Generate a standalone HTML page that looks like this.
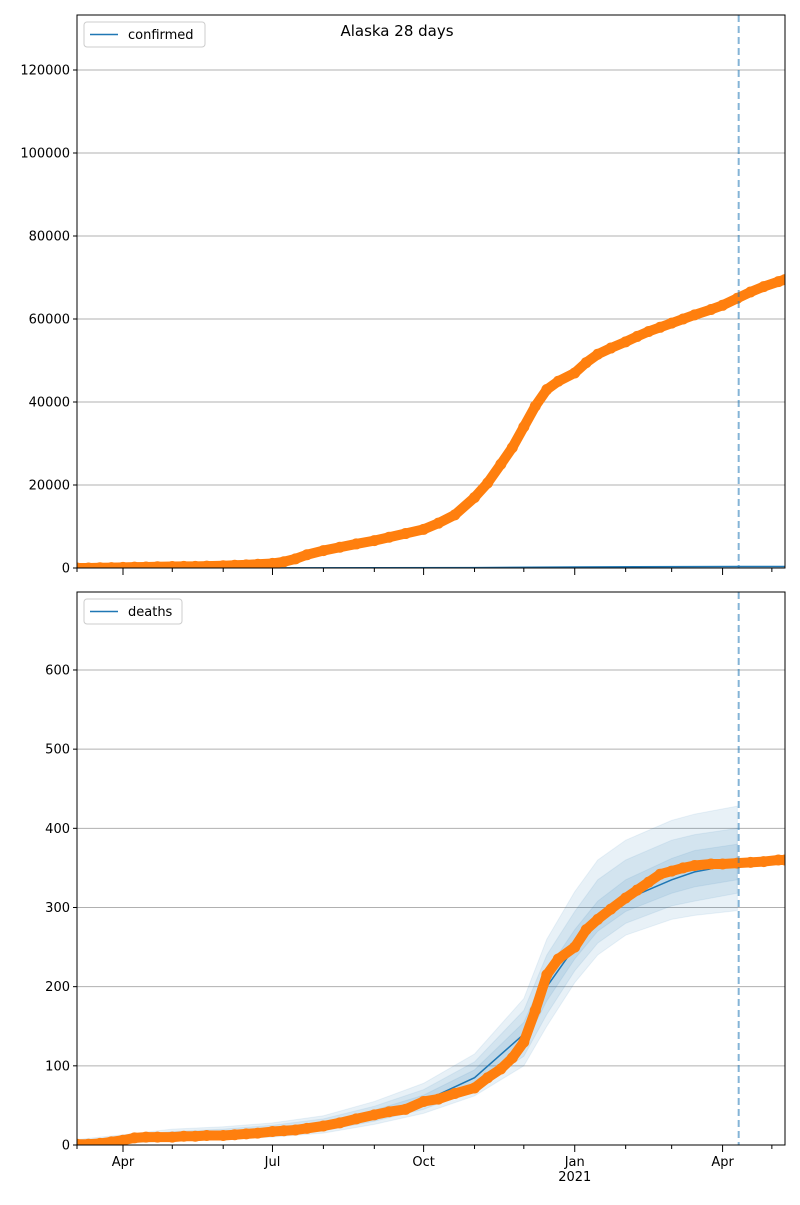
<!DOCTYPE html>
<html><head><meta charset="utf-8"><style>
body{margin:0;background:#fff;font-family:"Liberation Sans","DejaVu Sans",sans-serif}
svg text{font-family:"DejaVu Sans","Liberation Sans",sans-serif}
</style></head><body>
<svg id="c" width="800" height="1200" xmlns="http://www.w3.org/2000/svg"></svg>
<script>
// days since 2020-03-04
const obsDays=[0,7,14,21,28,35,42,49,58,65,72,79,89,96,103,110,119,126,133,140,150,160,170,181,190,200,211,220,230,242,250,258,265,272,279,286,293,303,310,317,325,334,341,348,355,362,369,376,386,393,402,410,418,427,431];
const confirmed=[0,0,50,100,150,200,250,300,350,380,400,450,550,650,750,900,1100,1500,2200,3200,4200,5000,5800,6600,7400,8300,9300,10800,12800,17000,20500,25000,29000,34000,39000,43000,45000,47000,49500,51500,53000,54500,55800,57000,58000,59000,60000,61000,62300,63300,65000,66500,67800,69000,69500];
const deaths=[1,1,2,4,6,9,10,10,10,11,11,12,12,13,14,15,17,18,19,21,24,28,33,38,42,45,55,58,65,72,85,96,110,130,170,215,235,250,272,285,298,312,322,332,342,346,350,353,355,355,356,357,358,360,360];
const bandDays=[0,28,58,89,119,150,181,211,242,272,286,303,317,334,362,376,402];
const median=[1,6,11,13,17,24,38,55,85,140,200,250,285,310,335,345,355];
const outerHi=[7,13,20,23,28,37,55,78,115,185,260,320,360,385,410,418,428];
const outerLo=[0,2,5,7,10,15,26,40,62,100,150,205,240,265,285,290,296];
const midHi=[5,11,17,20,25,33,49,70,105,170,240,295,335,360,385,392,400];
const midLo=[0,3,7,9,12,18,30,45,70,112,165,220,255,280,302,308,318];
const innerHi=[3,9,14,17,21,29,44,63,95,155,220,272,308,335,362,372,380];
const innerLo=[0,4,9,11,14,20,33,49,76,125,182,235,270,295,318,326,335];
const confModelDays=[0,119,242,303,402,431];
const confModel=[0,20,90,250,355,370];
const topTicks=[0,20000,40000,60000,80000,100000,120000];
const botTicks=[0,100,200,300,400,500,600];
const majorTicks=[[28,"Apr",""],[119,"Jul",""],[211,"Oct",""],[303,"Jan","2021"],[393,"Apr",""]];
const minorTicks=[0,58,89,150,181,242,272,334,362,423];
const forecastDay=402.8;

const svg=document.getElementById('c');const NS="http://www.w3.org/2000/svg";
function el(t,a,p){const e=document.createElementNS(NS,t);for(const k in a)e.setAttribute(k,a[k]);(p||svg).appendChild(e);return e;}
const X0=77,X1=785,D1=431;
const x=d=>X0+d*(X1-X0)/D1;
const defs=el('defs',{});
const panels=[{top:15,bot:568,max:133253,ticks:topTicks,name:'confirmed'},{top:592,bot:1145,max:698.5,ticks:botTicks,name:'deaths'}];
panels.forEach((p,pi)=>{
 const y=v=>p.bot-v*(p.bot-p.top)/p.max;
 const cp=el('clipPath',{id:'clip'+pi},defs);el('rect',{x:X0,y:p.top,width:X1-X0,height:p.bot-p.top},cp);
 const g=el('g',{});
 
 p.ticks.forEach(t=>{
  const l=el('line',{x1:X0,x2:X1,y1:y(t),y2:y(t),stroke:'#b0b0b0','stroke-width':1},g);
  
  el('line',{x1:X0-4,x2:X0,y1:y(t),y2:y(t),stroke:'#000'},g);
  const tx=el('text',{x:X0-7,y:y(t)+4.5,'text-anchor':'end','font-size':13},g);tx.textContent=t;
  
 });
 const pg=el('g',{'clip-path':'url(#clip'+pi+')'},g);
 
 if(pi===1){
  const band=(hi,lo,op,nm)=>{let d='M';bandDays.forEach((b,i)=>d+=x(b)+','+y(hi[i])+' L');for(let i=bandDays.length-1;i>=0;i--)d+=x(bandDays[i])+','+y(lo[i])+(i?' L':' Z');
   const e=el('path',{d:d,fill:'#1f77b4','fill-opacity':op,stroke:'#1f77b4','stroke-opacity':0.08},pg);};
  band(outerHi,outerLo,0.1,'band-outer');band(midHi,midLo,0.1,'band-middle');band(innerHi,innerLo,0.1,'band-inner');
  const m=el('polyline',{points:bandDays.map((b,i)=>x(b)+','+y(median[i])).join(' '),fill:'none',stroke:'#1f77b4','stroke-width':1.5},pg);
  
 } else {
  const m=el('polyline',{points:confModelDays.map((b,i)=>x(b)+','+y(confModel[i])).join(' '),fill:'none',stroke:'#1f77b4','stroke-width':1.5},pg);
  
 }
 const vals=pi?deaths:confirmed;
 const ol=el('polyline',{points:obsDays.map((d,i)=>x(d)+','+y(vals[i])).join(' '),fill:'none',stroke:'#ff7f0e','stroke-width':10,'stroke-linejoin':'round'},pg);
 
 obsDays.forEach((d,i)=>{const c=el('circle',{cx:x(d),cy:y(vals[i]),r:5.5,fill:'#ff7f0e'},pg);
  });
 const dl=el('line',{x1:x(forecastDay),x2:x(forecastDay),y1:p.top,y2:p.bot,stroke:'#1f77b4','stroke-opacity':0.55,'stroke-width':2,'stroke-dasharray':'7,4'},g);
 
 const fr=el('rect',{x:X0,y:p.top,width:X1-X0,height:p.bot-p.top,fill:'none',stroke:'#000','stroke-width':1},g);
 
 majorTicks.forEach(t=>{el('line',{x1:x(t[0]),x2:x(t[0]),y1:p.bot,y2:p.bot+7,stroke:'#000'},g);
  if(pi===1){const a=el('text',{x:x(t[0]),y:p.bot+21,'text-anchor':'middle','font-size':13},g);a.textContent=t[1];
   
   if(t[2]){const b=el('text',{x:x(t[0]),y:p.bot+36,'text-anchor':'middle','font-size':13},g);b.textContent=t[2];
   }}});
 minorTicks.forEach(t=>el('line',{x1:x(t),x2:x(t),y1:p.bot,y2:p.bot+4,stroke:'#000'},g));
 const lg=el('g',{},g);
 const w=pi?98:121;
 el('rect',{x:84,y:p.top+7,width:w,height:25,rx:3,fill:'#fff','fill-opacity':0.8,stroke:'#ccc'},lg);
 el('line',{x1:90,x2:118,y1:p.top+19.5,y2:p.top+19.5,stroke:'#1f77b4','stroke-width':1.5},lg);
 const lt=el('text',{x:128,y:p.top+24,'font-size':13},lg);lt.textContent=p.name;
});
const ti=el('text',{x:397,y:36,'text-anchor':'middle','font-size':15});ti.textContent='Alaska 28 days';

</script>
</body></html>
